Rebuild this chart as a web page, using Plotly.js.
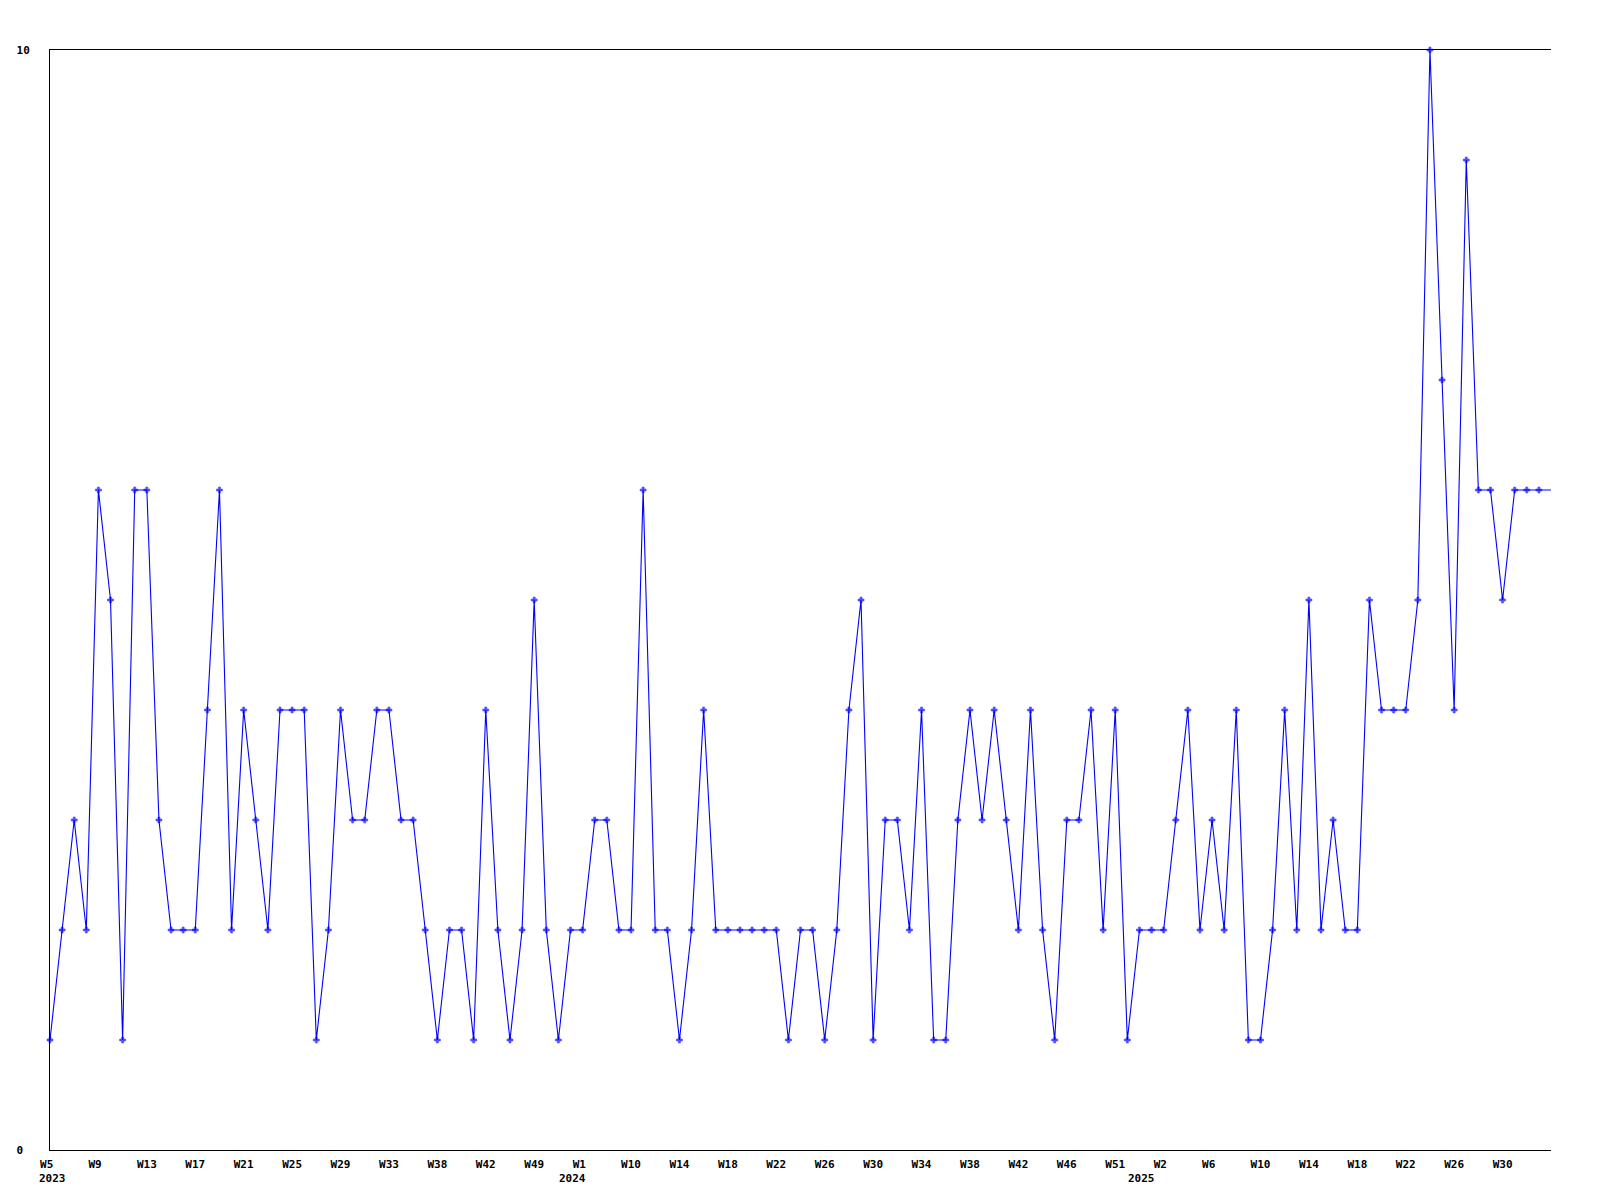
<!DOCTYPE html>
<html>
<head>
<meta charset="utf-8">
<script src="https://cdn.plot.ly/plotly-3.0.1.min.js"></script>
<style>
  html, body { margin: 0; padding: 0; background: #ffffff; }
  #chart { width: 1600px; height: 1200px; }
</style>
</head>
<body>
<div id="chart"></div>
<script>
// Weekly values, one per plotted week (categorical positions 0..124)
const values = [
  1, 2, 3, 2, 6, 5, 1, 6, 6, 3,
  2, 2, 2, 4, 6, 2, 4, 3, 2, 4,
  4, 4, 1, 2, 4, 3, 3, 4, 4, 3,
  3, 2, 1, 2, 2, 1, 4, 2, 1, 2,
  5, 2, 1, 2, 2, 3, 3, 2, 2, 6,
  2, 2, 1, 2, 4, 2, 2, 2, 2, 2,
  2, 1, 2, 2, 1, 2, 4, 5, 1, 3,
  3, 2, 4, 1, 1, 3, 4, 3, 4, 3,
  2, 4, 2, 1, 3, 3, 4, 2, 4, 1,
  2, 2, 2, 3, 4, 2, 3, 2, 4, 1,
  1, 2, 4, 2, 5, 2, 3, 2, 2, 5,
  4, 4, 4, 5, 10, 7, 4, 9, 6, 6,
  5, 6, 6, 6, 6
];

// Week tick labels, shown at every 4th point
const weekLabels = [
  'W5', 'W9', 'W13', 'W17', 'W21', 'W25', 'W29', 'W33', 'W38', 'W42', 'W49',
  'W1', 'W10', 'W14', 'W18', 'W22', 'W26', 'W30', 'W34', 'W38', 'W42', 'W46', 'W51',
  'W2', 'W6', 'W10', 'W14', 'W18', 'W22', 'W26', 'W30'
];

// Year labels and the point index where each year label sits
const yearLabels = ['2023', '2024', '2025'];
const yearPos = [0, 43, 90];

const yTickVals = [0, 10];
const yTickText = ['0', '10'];

const NBSP = '\u00a0';
const padRight = (t, n) => t + NBSP.repeat(Math.max(0, n - t.length));

const xIdx = values.map((_, i) => i);
const tickStep = 4;
const tickVals = weekLabels.map((_, i) => i * tickStep);
const tickText = weekLabels.map(t => padRight(t, 3));
const yText = yTickText.map(t => padRight(t, 2));
const markerSizes = values.map((_, i) => (i === values.length - 1 ? 0 : 5));

const fontFam = '"DejaVu Sans Mono", "Liberation Mono", monospace';
const tickFont = { family: fontFam, size: 11, color: '#000000', weight: 'bold' };

const trace = {
  x: xIdx,
  y: values,
  type: 'scatter',
  mode: 'lines+markers',
  line: { color: '#0000ff', width: 1.1 },
  marker: { color: '#0000ff', symbol: 'cross', size: markerSizes, line: { width: 0.6, color: '#0000ff' } },
  cliponaxis: false,
  hoverinfo: 'x+y'
};

const annotations = yearLabels.map((t, i) => ({
  x: yearPos[i],
  xref: 'x',
  y: 0,
  yref: 'paper',
  yanchor: 'top',
  xanchor: 'center',
  xshift: 2,
  yshift: -20,
  text: t,
  showarrow: false,
  font: tickFont
}));

const layout = {
  width: 1600,
  height: 1200,
  margin: { l: 50, r: 49, t: 50, b: 50 },
  paper_bgcolor: '#ffffff',
  plot_bgcolor: '#ffffff',
  showlegend: false,
  xaxis: {
    range: [0, values.length - 1],
    tickmode: 'array',
    tickvals: tickVals,
    ticktext: tickText,
    tickangle: 0,
    showgrid: false,
    zeroline: false,
    showline: true,
    mirror: true,
    linecolor: '#000000',
    linewidth: 1,
    ticks: '',
    ticklabelstandoff: 4,
    tickfont: tickFont
  },
  yaxis: {
    range: [0, 10],
    tickmode: 'array',
    tickvals: yTickVals,
    ticktext: yText,
    showgrid: false,
    zeroline: false,
    showline: true,
    linecolor: '#000000',
    linewidth: 1,
    ticks: '',
    ticklabelstandoff: 17,
    tickfont: tickFont
  },
  annotations: annotations
};

Plotly.newPlot('chart', [trace], layout, { displayModeBar: false, staticPlot: true });
</script>
</body>
</html>
